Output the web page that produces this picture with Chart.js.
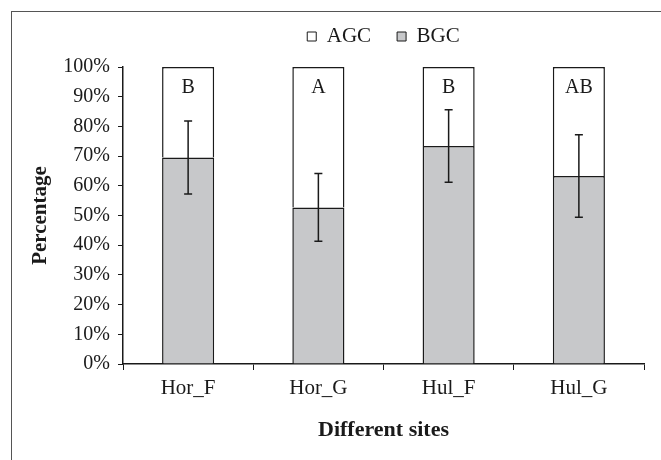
<!DOCTYPE html>
<html>
<head>
<meta charset="utf-8">
<script src="https://cdn.jsdelivr.net/npm/chart.js@4"></script>
<style>
    html, body { margin: 0; padding: 0; background: #fff; }
    #wrap { position: relative; width: 661px; height: 460px; overflow: hidden; }
    #frame { position: absolute; left: 11px; top: 11px; width: 700px; height: 500px; border: 1px solid #555; box-sizing: border-box; }
    canvas { position: absolute; left: 0; top: 0; }
</style>
</head>
<body>
<div id="wrap">
    <div id="frame"></div>
    <canvas id="chart" width="661" height="460"></canvas>
</div>
<script>
// ── data ──
const sites = ['Hor_F', 'Hor_G', 'Hul_F', 'Hul_G'];
const bgc = [69.5, 52.7, 73.4, 63.3];      // below-ground share (%)
const agc = bgc.map(v => 100 - v);         // above-ground share = rest of 100%
const bgcErr = [12.3, 11.4, 12.2, 13.9];   // error bar half-length (%)
const letters = ['B', 'A', 'B', 'AB'];     // significance letters
const letterPos = 93;                      // y value where letters sit
const yTicks = [0, 10, 20, 30, 40, 50, 60, 70, 80, 90, 100];

const FONT = "'Liberation Serif', 'Times New Roman', serif";
const INK = '#1a1a1a';
const GRAY = '#c7c8ca';
const LEGEND_H = 67;

// fixed legend height so the plot starts where the original does
const legendHeightPlugin = {
    id: 'legendHeight',
    beforeLayout(chart) {
        const lg = chart.legend;
        if (lg && !lg._fixedH) {
            const fit = lg.fit;
            lg.fit = function () { fit.call(this); this.height = LEGEND_H; };
            lg._fixedH = true;
        }
    }
};

// error bars on top of BGC + letters in AGC part
const extrasPlugin = {
    id: 'extras',
    afterDatasetsDraw(chart) {
        const { ctx, scales: { x, y } } = chart;
        ctx.save();
        ctx.strokeStyle = INK;
        ctx.lineWidth = 1.5;
        bgc.forEach((v, i) => {
            const cx = x.getPixelForValue(i);
            const top = y.getPixelForValue(v + bgcErr[i]);
            const bot = y.getPixelForValue(v - bgcErr[i]);
            ctx.beginPath();
            ctx.moveTo(cx, top); ctx.lineTo(cx, bot);
            ctx.moveTo(cx - 4, top); ctx.lineTo(cx + 4, top);
            ctx.moveTo(cx - 4, bot); ctx.lineTo(cx + 4, bot);
            ctx.stroke();
        });
        ctx.fillStyle = INK;
        ctx.font = '20px ' + FONT;
        ctx.textAlign = 'center';
        ctx.textBaseline = 'middle';
        letters.forEach((t, i) => {
            ctx.fillText(t, x.getPixelForValue(i), y.getPixelForValue(letterPos));
        });
        ctx.restore();
    }
};

new Chart(document.getElementById('chart'), {
    type: 'bar',
    data: {
        labels: sites,
        datasets: [
            {
                label: 'BGC',
                data: bgc,
                backgroundColor: GRAY,
                borderColor: INK,
                borderWidth: 1.5,
                borderSkipped: 'bottom',
                categoryPercentage: 1,
                barPercentage: 0.4
            },
            {
                label: 'AGC',
                data: agc,
                backgroundColor: '#ffffff',
                borderColor: INK,
                borderWidth: 1.5,
                borderSkipped: 'bottom',
                categoryPercentage: 1,
                barPercentage: 0.4
            }
        ]
    },
    options: {
        responsive: false,
        animation: false,
        devicePixelRatio: 1,
        layout: { padding: { left: 24, right: 17, top: 0, bottom: 12 } },
        plugins: {
            legend: {
                position: 'top',
                fullSize: false,
                reverse: true,
                labels: {
                    color: INK,
                    font: { family: FONT, size: 21 },
                    boxWidth: 9,
                    boxHeight: 9,
                    padding: 26,
                    generateLabels(chart) {
                        return chart.data.datasets.map((ds, i) => ({
                            text: ds.label,
                            fillStyle: ds.backgroundColor,
                            strokeStyle: INK,
                            lineWidth: 1,
                            fontColor: INK,
                            datasetIndex: i
                        }));
                    }
                }
            },
            tooltip: { enabled: false }
        },
        scales: {
            x: {
                stacked: true,
                afterFit(s) { s.height = 84; },
                grid: { display: true, drawOnChartArea: false, drawTicks: true, tickLength: 6, color: INK, offset: true },
                border: { color: INK, width: 1.5 },
                ticks: { color: INK, font: { family: FONT, size: 21 }, padding: 6 },
                title: {
                    display: true,
                    text: 'Different sites',
                    color: INK,
                    font: { family: FONT, size: 22, weight: 'bold' },
                    padding: { top: 0, bottom: 4 }
                }
            },
            y: {
                stacked: true,
                min: 0,
                max: 100,
                afterFit(s) { s.width = 99; },
                afterBuildTicks(s) { s.ticks = yTicks.map(v => ({ value: v })); },
                grid: { display: true, drawOnChartArea: false, drawTicks: true, tickLength: 5, color: INK },
                border: { color: INK, width: 1.5 },
                ticks: {
                    color: INK,
                    font: { family: FONT, size: 20 },
                    padding: 8,
                    callback: v => v + '%'
                },
                title: {
                    display: true,
                    text: 'Percentage',
                    color: INK,
                    font: { family: FONT, size: 21, weight: 'bold' },
                    padding: { top: 4, bottom: 0 }
                }
            }
        }
    },
    plugins: [legendHeightPlugin, extrasPlugin]
});
</script>
</body>
</html>
